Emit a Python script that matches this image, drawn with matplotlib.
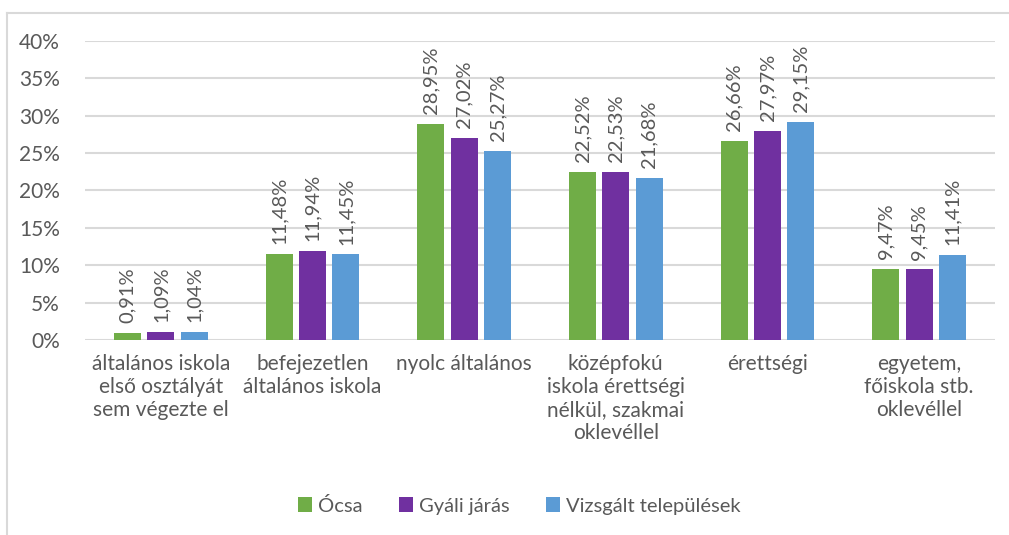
import matplotlib.pyplot as plt
import numpy as np
from matplotlib.lines import Line2D
from matplotlib.ticker import FuncFormatter

plt.rcParams['font.family'] = ['Lato', 'DejaVu Sans']

categories = ['általános iskola\nelső osztályát\nsem végezte el',
              'befejezetlen\náltalános iskola',
              'nyolc általános',
              'középfokú\niskola érettségi\nnélkül, szakmai\noklevéllel',
              'érettségi',
              'egyetem,\nfőiskola stb.\noklevéllel']
series_names = ['Ócsa', 'Gyáli járás', 'Vizsgált települések']
ocsa = [0.91, 11.48, 28.95, 22.52, 26.66, 9.47]
gyali = [1.09, 11.94, 27.02, 22.53, 27.97, 9.45]
vizsgalt = [1.04, 11.45, 25.27, 21.68, 29.15, 11.41]
colors = ['#70AD47', '#7030A0', '#5B9BD5']

text_color = '#595959'

fig = plt.figure(figsize=(10.09, 5.35), dpi=100)
ax = fig.add_axes([0.0842, 0.3645, 0.9018, 0.5589])

x = np.arange(len(categories))
width = 0.178
step = 0.22
for i, (vals, name, c) in enumerate(zip([ocsa, gyali, vizsgalt], series_names, colors)):
    pos = x + (i - 1) * step
    ax.bar(pos, vals, width, color=c, label=name, zorder=3)
    for p, v in zip(pos, vals):
        ax.annotate(f'{v:.2f}%'.replace('.', ','), (p, v), xytext=(0, 7),
                    textcoords='offset points', rotation=90, ha='center', va='bottom',
                    fontsize=14.5, color=text_color)

ax.set_xlim(-0.5, len(categories) - 0.5)
ax.set_ylim(0, 40)
ax.set_yticks(range(0, 41, 5))
ax.yaxis.set_major_formatter(FuncFormatter(lambda v, p: f'{v:.0f}%'))
ax.set_xticks(x)
ax.set_xticklabels(categories, fontsize=15, color=text_color, linespacing=1.2, va='top')
ax.tick_params(axis='y', labelsize=15, colors=text_color, length=0, pad=18)
ax.tick_params(axis='x', length=0, pad=10)
ax.grid(axis='y', color='#D9D9D9', linewidth=1.5, zorder=0)
for s in ax.spines.values():
    s.set_visible(False)

handles, labels = ax.get_legend_handles_labels()
fig.legend(handles, labels, loc='center', bbox_to_anchor=(0.515, 0.055), ncol=3,
           frameon=False, fontsize=14.5, labelcolor=text_color,
           handlelength=0.7, handleheight=0.7, handletextpad=0.3, columnspacing=1.8)

# outer frame: only top and left edges are visible
fig.add_artist(Line2D([0.007, 0.007], [0.0, 0.976], transform=fig.transFigure,
                      color='#D9D9D9', linewidth=1.5))
fig.add_artist(Line2D([0.007, 1.0], [0.976, 0.976], transform=fig.transFigure,
                      color='#D9D9D9', linewidth=1.5))

fig.savefig('out.png', dpi=100)
